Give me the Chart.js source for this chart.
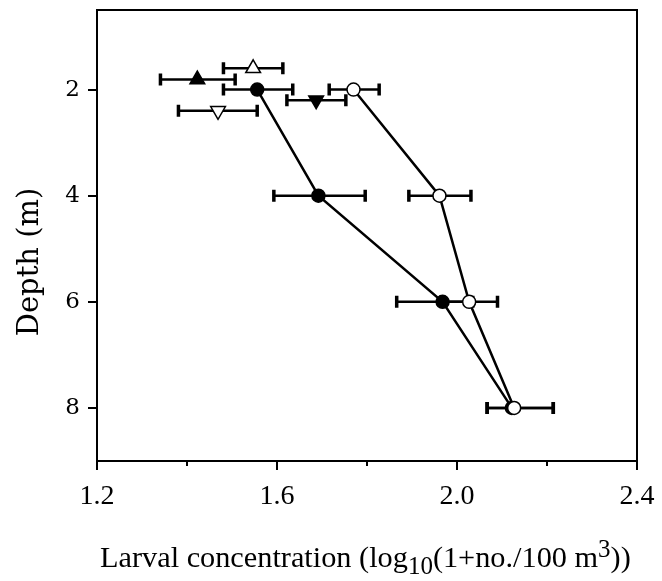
<!DOCTYPE html>
<html>
<head>
<meta charset="utf-8">
<script src="https://cdn.jsdelivr.net/npm/chart.js@4.4.0/dist/chart.umd.min.js"></script>
<style>
  html, body { margin: 0; padding: 0; background: #fff; }
  #wrap { width: 662px; height: 581px; }
</style>
</head>
<body>
<div id="wrap"><canvas id="chart" width="662" height="581"></canvas></div>
<script>
// Axis ticks
const xTicks = [1.2, 1.4, 1.6, 1.8, 2.0, 2.2, 2.4];
const xMajor = [1.2, 1.6, 2.0, 2.4];
const yTicks = [2, 4, 6, 8];

// Profiles joined by lines (depth in m, concentration)
const depths = [2, 4, 6, 8];
const filledX = [1.556, 1.692, 1.968, 2.122];
const filledLo = [1.481, 1.593, 1.866, 2.067];
const filledHi = [1.635, 1.796, 2.035, 2.214];
const openX = [1.770, 1.961, 2.027, 2.127];
const openLo = [1.716, 1.893, 1.964, 2.067];
const openHi = [1.827, 2.031, 2.090, 2.214];

// Single points near the surface
const upFilled = { x: 1.423, y: 1.81, lo: 1.341, hi: 1.507 };
const upOpen = { x: 1.547, y: 1.60, lo: 1.481, hi: 1.613 };
const downFilled = { x: 1.687, y: 2.20, lo: 1.622, hi: 1.753 };
const downOpen = { x: 1.469, y: 2.40, lo: 1.381, hi: 1.556 };

const serif = "'Liberation Serif', 'Times New Roman', serif";
const wide = "'DejaVu Serif', serif";

function pts(xs, ys, lo, hi) {
  return xs.map((x, i) => ({ x: x, y: ys[i], lo: lo[i], hi: hi[i] }));
}

// error bars, drawn under the markers
const errorBars = {
  id: 'errorBars',
  beforeDatasetsDraw(chart) {
    const ctx = chart.ctx;
    const xs = chart.scales.x, ys = chart.scales.y;
    ctx.save();
    ctx.strokeStyle = '#000';
    chart.data.datasets.forEach(ds => {
      ds.data.forEach(p => {
        const y = ys.getPixelForValue(p.y);
        const x1 = xs.getPixelForValue(p.lo), x2 = xs.getPixelForValue(p.hi);
        ctx.lineWidth = 2.5;
        ctx.beginPath();
        ctx.moveTo(x1, y); ctx.lineTo(x2, y);
        ctx.stroke();
        ctx.lineWidth = 3.5;
        ctx.beginPath();
        ctx.moveTo(x1, y - 6); ctx.lineTo(x1, y + 6);
        ctx.moveTo(x2, y - 6); ctx.lineTo(x2, y + 6);
        ctx.stroke();
      });
    });
    ctx.restore();
  }
};

// frame, minor ticks and axis titles
const frame = {
  id: 'frame',
  afterDraw(chart) {
    const ctx = chart.ctx;
    const a = chart.chartArea;
    const xs = chart.scales.x;
    ctx.save();
    ctx.strokeStyle = '#000';
    ctx.lineWidth = 2;
    ctx.strokeRect(a.left, a.top, a.right - a.left, a.bottom - a.top);
    xTicks.filter(v => !xMajor.includes(v)).forEach(v => {
      const px = xs.getPixelForValue(v);
      ctx.beginPath();
      ctx.moveTo(px, a.bottom); ctx.lineTo(px, a.bottom + 5);
      ctx.stroke();
    });

    ctx.fillStyle = '#000';
    // y title
    ctx.save();
    ctx.translate(30, 262);
    ctx.rotate(-Math.PI / 2);
    ctx.font = '29px ' + wide;
    ctx.textAlign = 'center';
    ctx.textBaseline = 'middle';
    ctx.fillText('Depth (m)', 0, 0);
    ctx.restore();

    // x title with sub/superscript
    const parts = [
      { t: 'Larval concentration (log', s: 30.3, dy: 0 },
      { t: '10', s: 25, dy: 7 },
      { t: '(1+no./100 m', s: 30.3, dy: 0 },
      { t: '3', s: 25, dy: -10 },
      { t: '))', s: 30.3, dy: 0 }
    ];
    let x = 100;
    const base = 567;
    ctx.textBaseline = 'alphabetic';
    ctx.textAlign = 'left';
    parts.forEach(p => {
      ctx.font = p.s + 'px ' + serif;
      ctx.fillText(p.t, x, base + p.dy);
      x += ctx.measureText(p.t).width;
    });
    ctx.restore();
  }
};

const circle = { pointStyle: 'circle', pointRadius: 6.5, pointHoverRadius: 6.5, pointBorderWidth: 1.5, pointBorderColor: '#000' };
const tri = { pointStyle: 'triangle', pointRadius: 8.5, pointHoverRadius: 8.5, pointBorderWidth: 1.5, pointBorderColor: '#000', showLine: false };

new Chart(document.getElementById('chart'), {
  type: 'scatter',
  data: {
    datasets: [
      Object.assign({ label: 'open', data: pts(openX, depths, openLo, openHi), showLine: true,
        borderColor: '#000', borderWidth: 2.5, pointBackgroundColor: '#fff' }, circle),
      Object.assign({ label: 'filled', data: pts(filledX, depths, filledLo, filledHi), showLine: true,
        borderColor: '#000', borderWidth: 2.5, pointBackgroundColor: '#000' }, circle),
      Object.assign({ label: 'up filled', data: [upFilled], pointBackgroundColor: '#000' }, tri),
      Object.assign({ label: 'up open', data: [upOpen], pointBackgroundColor: '#fff' }, tri),
      Object.assign({ label: 'down filled', data: [downFilled], pointBackgroundColor: '#000', pointRotation: 180 }, tri),
      Object.assign({ label: 'down open', data: [downOpen], pointBackgroundColor: '#fff', pointRotation: 180 }, tri)
    ]
  },
  options: {
    responsive: false,
    animation: false,
    layout: { padding: { top: 10, right: 25, left: 0, bottom: 0 } },
    plugins: { legend: { display: false }, tooltip: { enabled: false } },
    scales: {
      x: {
        type: 'linear',
        min: 1.2, max: 2.4,
        afterBuildTicks: s => { s.ticks = xTicks.map(v => ({ value: v })); },
        afterFit: s => { s.height = 120; s.paddingLeft = 0; s.paddingRight = 0; },
        grid: { drawOnChartArea: false, tickLength: 9, lineWidth: 2,
          tickColor: c => xMajor.includes(c.tick.value) ? '#000' : 'rgba(0,0,0,0)' },
        border: { color: '#000', width: 2 },
        ticks: {
          color: '#000', padding: 10, maxRotation: 0, autoSkip: false,
          font: { family: serif, size: 28 },
          callback: v => xMajor.includes(v) ? v.toFixed(1) : ''
        }
      },
      y: {
        type: 'linear',
        reverse: true,
        min: 0.5, max: 9,
        afterBuildTicks: s => { s.ticks = yTicks.map(v => ({ value: v })); },
        afterFit: s => { s.width = 97; s.paddingTop = 0; s.paddingBottom = 0; },
        grid: { drawOnChartArea: false, tickLength: 9, lineWidth: 2, tickColor: '#000' },
        border: { color: '#000', width: 2 },
        ticks: {
          color: '#000', padding: 8,
          font: { family: wide, size: 23 }
        }
      }
    }
  },
  plugins: [errorBars, frame]
});
</script>
</body>
</html>
